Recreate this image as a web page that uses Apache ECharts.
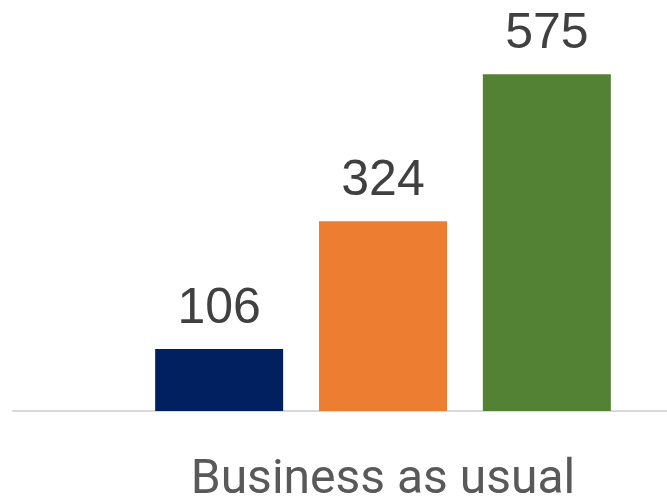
<!DOCTYPE html>
<html><head><meta charset="utf-8">
<script src="https://cdn.jsdelivr.net/npm/echarts@6/dist/echarts.min.js"></script>
<style>html,body{margin:0;padding:0;background:#fff}#c{width:667px;height:501px}</style>
</head><body><div id="c"></div>
<script>
const categories = ["Business as usual"];
const seriesNames = ["Series A", "Series B", "Series C"];
const seriesValues = [[106], [324], [575]];
const seriesColors = ["#002060", "#ED7D31", "#548235"];

const chart = echarts.init(document.getElementById('c'));
chart.setOption({
  animation: false,
  grid: { left: 13, top: 1, width: 740, height: 410, containLabel: false, outerBoundsMode: 'none' },
  xAxis: {
    type: 'category', data: categories,
    axisLine: { lineStyle: { color: '#d9d9d9', width: 2 } },
    axisTick: { show: false },
    axisLabel: { color: '#595959', fontSize: 48, fontFamily: 'Roboto', margin: 46 }
  },
  yAxis: { type: 'value', min: 0, max: 700, show: false, splitLine: { show: false } },
  series: seriesNames.map((n, i) => ({
    name: n, type: 'bar', data: seriesValues[i], barWidth: 128, barGap: '28%',
    itemStyle: { color: seriesColors[i] },
    label: { show: true, position: 'top', distance: 15, color: '#404040', fontSize: 50, fontFamily: 'Liberation Sans' }
  }))
});
</script></body></html>
